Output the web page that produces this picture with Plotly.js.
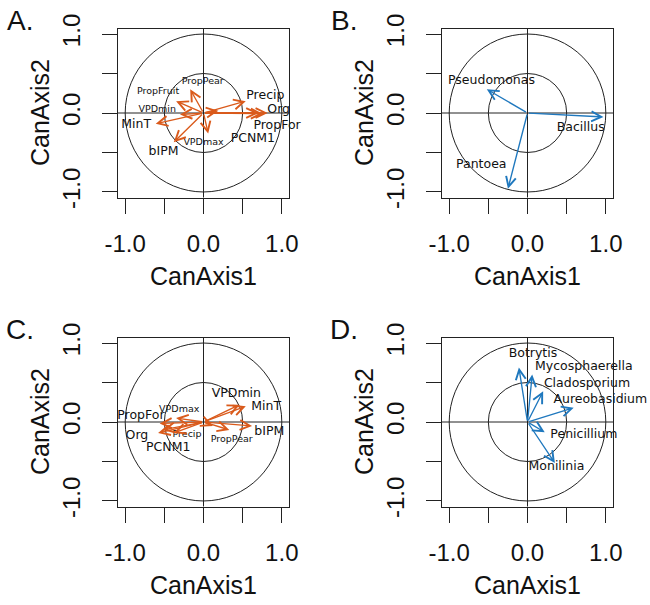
<!DOCTYPE html>
<html>
<head>
<meta charset="utf-8">
<script src="https://cdn.plot.ly/plotly-3.0.1.min.js"></script>
<style>html,body{margin:0;padding:0;background:#fff;}#chart{width:650px;height:605px;}</style>
</head>
<body>
<div id="chart"></div>
<script>
// ---------- DATA ----------
// Panel A: environmental variables (arrow tips and label positions)
var envA_names  = ['Precip','Org','PropFor','PCNM1','PropPear','PropFruit','VPDmin','MinT','bIPM','VPDmax',''];
var envA_x      = [0.54, 0.82, 0.76, 0.70, -0.17, -0.35, -0.30, -0.61, -0.38, 0.06, 0.19];
var envA_y      = [0.15, 0.00, -0.01, 0.00, 0.30, 0.15, -0.02, -0.135, -0.37, -0.26, 0.03];
var envA_lx     = [0.79, 0.96, 0.94, 0.63, -0.01, -0.58, -0.59, -0.86, -0.51, 0.00, 0];
var envA_ly     = [0.22, 0.04, -0.16, -0.33, 0.40, 0.27, 0.04, -0.15, -0.49, -0.38, 0];

// Panel B: bacteria
var bacB_names = ['Pseudomonas','Bacillus','Pantoea'];
var bacB_x     = [-0.52, 0.97, -0.25];
var bacB_y     = [0.30, -0.05, -0.96];
var bacB_lx    = [-0.46, 0.68, -0.59];
var bacB_ly    = [0.41, -0.19, -0.66];

// Panel C: environmental variables
var envC_names = ['VPDmin','MinT','bIPM','PropPear','PropFor','Org','PCNM1','VPDmax','Precip',''];
var envC_x     = [0.46, 0.54, 0.62, 0.33, -0.56, -0.58, -0.52, -0.35, -0.38, 0.12];
var envC_y     = [0.22, 0.20, -0.05, -0.10, -0.02, -0.14, -0.10, 0.05, -0.14, -0.05];
var envC_lx    = [0.42, 0.80, 0.84, 0.36, -0.80, -0.85, -0.45, -0.31, -0.21, 0];
var envC_ly    = [0.35, 0.19, -0.12, -0.22, 0.08, -0.18, -0.33, 0.16, -0.16, 0];

// Panel D: fungi
var funD_names = ['Botrytis','Mycosphaerella','Cladosporium','Aureobasidium','Penicillium','Monilinia'];
var funD_x     = [-0.11, 0.06, 0.20, 0.59, 0.22, 0.35];
var funD_y     = [0.69, 0.60, 0.39, 0.18, -0.13, -0.52];
var funD_lx    = [0.07, 0.72, 0.76, 0.93, 0.72, 0.37];
var funD_ly    = [0.86, 0.70, 0.48, 0.28, -0.16, -0.57];

var tickVals   = [-1, -0.5, 0, 0.5, 1];
var tickLabels = ['-1.0', '', '0.0', '', '1.0'];
var panelLetters = ['A.', 'B.', 'C.', 'D.'];
var xTitle = 'CanAxis1';
var yTitle = 'CanAxis2';

// ---------- STYLE ----------
var ORANGE = '#DA5A1B';
var BLUE = '#1F78BE';
var LINE = '#222';
var AXFONT = 'Liberation Sans, Arial, sans-serif';
var LBFONT = 'DejaVu Sans, sans-serif';
var W = 650, H = 605;

// pixel boxes of plot areas [left, right, top, bottom]
var boxes = [
  [118, 289, 28.5, 197.5],
  [442, 613, 28.5, 197.5],
  [118, 289, 337.5, 506.5],
  [442, 613, 337.5, 506.5]
];

var panels = [
  {names: envA_names, x: envA_x, y: envA_y, lx: envA_lx, ly: envA_ly, color: ORANGE, sizeByLen: true},
  {names: bacB_names, x: bacB_x, y: bacB_y, lx: bacB_lx, ly: bacB_ly, color: BLUE, sizeByLen: false},
  {names: envC_names, x: envC_x, y: envC_y, lx: envC_lx, ly: envC_ly, color: ORANGE, sizeByLen: true},
  {names: funD_names, x: funD_x, y: funD_y, lx: funD_lx, ly: funD_ly, color: BLUE, sizeByLen: false}
];

var traces = [];
var shapes = [];
var annotations = [];
var layout = {
  width: W, height: H,
  margin: {l: 0, r: 0, t: 0, b: 0},
  paper_bgcolor: '#fff', plot_bgcolor: '#fff',
  showlegend: false
};

panels.forEach(function(p, i) {
  var n = i + 1;
  var xa = n === 1 ? 'x' : 'x' + n;
  var ya = n === 1 ? 'y' : 'y' + n;
  var xkey = n === 1 ? 'xaxis' : 'xaxis' + n;
  var ykey = n === 1 ? 'yaxis' : 'yaxis' + n;
  var b = boxes[i];

  layout[xkey] = {
    domain: [b[0] / W, b[1] / W],
    range: [-1.092, 1.092],
    anchor: ya,
    tickmode: 'array', tickvals: tickVals, ticktext: tickLabels,
    ticks: 'outside', ticklen: 15, tickwidth: 1, tickcolor: LINE,
    ticklabelstandoff: 10,
    tickfont: {family: AXFONT, size: 24, color: '#111'},
    showline: true, mirror: true, linecolor: LINE, linewidth: 1,
    showgrid: false, zeroline: false, fixedrange: true
  };
  layout[ykey] = {
    domain: [1 - b[3] / H, 1 - b[2] / H],
    range: [-1.07, 1.07],
    anchor: xa,
    tickmode: 'array', tickvals: tickVals, ticktext: tickLabels,
    ticks: 'outside', ticklen: 15, tickwidth: 1, tickcolor: LINE,
    tickangle: -90,
    ticklabelstandoff: 12,
    tickfont: {family: AXFONT, size: 24, color: '#111'},
    showline: true, mirror: true, linecolor: LINE, linewidth: 1,
    showgrid: false, zeroline: false, fixedrange: true
  };

  // circles and cross lines
  [1, 0.5].forEach(function(r) {
    shapes.push({type: 'circle', xref: xa, yref: ya, x0: -r, x1: r, y0: -r, y1: r,
      line: {color: LINE, width: 1}});
  });
  shapes.push({type: 'line', xref: xa, yref: ya + ' domain', x0: 0, x1: 0, y0: 0, y1: 1,
    line: {color: LINE, width: 1}});
  shapes.push({type: 'line', xref: xa + ' domain', yref: ya, x0: 0, x1: 1, y0: 0, y1: 0,
    line: {color: LINE, width: 1}});

  // arrows
  for (var k = 0; k < p.x.length; k++) {
    annotations.push({
      xref: xa, yref: ya, axref: xa, ayref: ya,
      x: p.x[k], y: p.y[k], ax: 0, ay: 0,
      text: '', showarrow: true,
      arrowhead: 5, arrowsize: 1.45, arrowwidth: 1.35, arrowcolor: p.color
    });
  }

  // labels
  var lx = [], ly = [], lt = [], ls = [];
  for (var k2 = 0; k2 < p.names.length; k2++) {
    if (!p.names[k2]) continue;
    lx.push(p.lx[k2]); ly.push(p.ly[k2]); lt.push(p.names[k2]);
    var len = Math.sqrt(p.x[k2] * p.x[k2] + p.y[k2] * p.y[k2]);
    ls.push(p.sizeByLen && len < 0.45 ? 9.5 : 12.5);
  }
  traces.push({
    type: 'scatter', mode: 'text', x: lx, y: ly, text: lt,
    xaxis: xa, yaxis: ya,
    textposition: 'middle center',
    textfont: {family: LBFONT, size: ls, color: '#111'},
    cliponaxis: false, hoverinfo: 'skip'
  });

  // axis titles (as paper annotations)
  var cx = (b[0] + b[1]) / 2, cy = (b[2] + b[3]) / 2;
  annotations.push({xref: 'paper', yref: 'paper', x: cx / W, y: 1 - (b[3] + 78) / H,
    text: xTitle, showarrow: false, xanchor: 'center', yanchor: 'middle',
    font: {family: AXFONT, size: 25, color: '#111'}});
  annotations.push({xref: 'paper', yref: 'paper', x: (b[0] - 78) / W, y: 1 - cy / H,
    text: yTitle, showarrow: false, xanchor: 'center', yanchor: 'middle', textangle: -90,
    font: {family: AXFONT, size: 25, color: '#111'}});
  // panel letter
  annotations.push({xref: 'paper', yref: 'paper', x: (b[0] - 98) / W, y: 1 - (b[2] - 8) / H,
    text: panelLetters[i], showarrow: false, xanchor: 'center', yanchor: 'middle',
    font: {family: AXFONT, size: 28, color: '#111'}});
});

layout.shapes = shapes;
layout.annotations = annotations;

Plotly.newPlot('chart', traces, layout, {displayModeBar: false, staticPlot: true});
</script>
</body>
</html>
